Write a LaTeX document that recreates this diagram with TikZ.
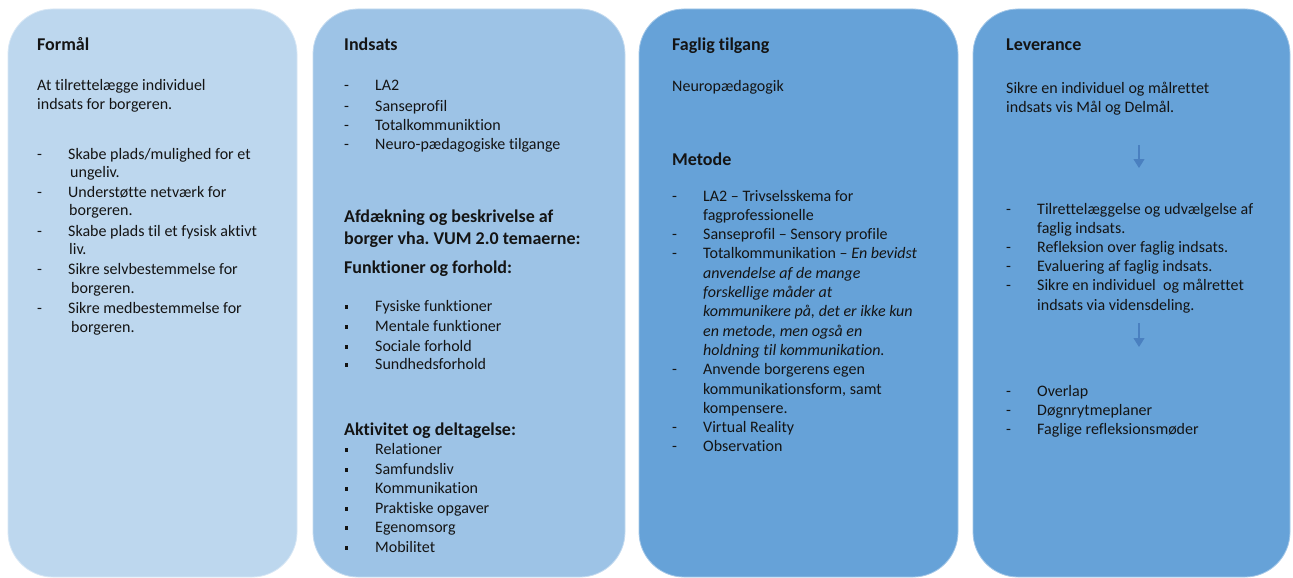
\documentclass[tikz,border=0pt]{standalone}
\usepackage{fontspec}
\setmainfont[Ligatures={NoCommon,NoContextual},Contextuals=NoAlternate]{Carlito}
\frenchspacing
\usetikzlibrary{arrows.meta}
\definecolor{boxA}{HTML}{BDD7EE}
\definecolor{boxB}{HTML}{9DC3E6}
\definecolor{boxC}{HTML}{66A2D8}
\definecolor{arrowc}{HTML}{4A80C0}
\definecolor{txtc}{HTML}{141414}
\begin{document}
\begin{tikzpicture}[x=1pt,y=-1pt,
  colbox/.style={rounded corners=45pt, line width=0.8pt},
  body/.style={anchor=base west, inner sep=0pt, text=txtc, font=\fontsize{16}{19}\selectfont},
  ital/.style={body, font=\fontsize{16}{19}\selectfont\itshape},
  head/.style={anchor=base west, inner sep=0pt, text=txtc, font=\fontsize{18}{22}\selectfont\bfseries},
  sq/.style={anchor=base west, inner sep=0pt, text=txtc},
  flow/.style={draw=arrowc, line width=1.1pt, -{Triangle[width=11pt,length=9pt]}}
]
\useasboundingbox (0,0) rectangle (1293,578);
\fill[white] (0,0) rectangle (1293,578);

% boxes
\draw[colbox, fill=boxA, draw=boxA!60!white] (8,9) rectangle (297,577);
\draw[colbox, fill=boxB, draw=boxB!60!white] (313,9) rectangle (625,577);
\draw[colbox, fill=boxC, draw=boxC!60!white] (639,9) rectangle (958,577);
\draw[colbox, fill=boxC, draw=boxC!60!white] (973,9) rectangle (1290,577);

% ---------- Column 1 ----------
\node[head] (h1) at (37,51) {Formål};
\node[body] (t1a) at (37,91) {At tilret\kern0pt telægge individuel};
\node[body] (t1b) at (37,110) {indsats for borgeren.};
\node[body] (d1a) at (37,159) {-};
\node[body] (i1a) at (68,159) {Skabe plads/mulighed for et};
\node[body] (i1a2) at (70,177) {ungeliv.};
\node[body] (d1b) at (37,197) {-};
\node[body] (i1b) at (68,197) {Understøt\kern0pt te netværk for};
\node[body] (i1b2) at (69,215) {borgeren.};
\node[body] (d1c) at (37,236) {-};
\node[body] (i1c) at (68,236) {Skabe plads til et fysisk aktivt};
\node[body] (i1c2) at (69,254) {liv.};
\node[body] (d1d) at (37,274) {-};
\node[body] (i1d) at (68,274) {Sikre selvbestemmelse for};
\node[body] (i1d2) at (71,293) {borgeren.};
\node[body] (d1e) at (37,313) {-};
\node[body] (i1e) at (68,313) {Sikre medbestemmelse for};
\node[body] (i1e2) at (71,332) {borgeren.};

% ---------- Column 2 ----------
\node[head] (h2) at (344,51) {Indsats};
\node[body] (d2a) at (344,91) {-};
\node[body] (i2a) at (375,91) {LA2};
\node[body] (d2b) at (344,111) {-};
\node[body] (i2b) at (375,111) {Sanseprofil};
\node[body] (d2c) at (344,130) {-};
\node[body] (i2c) at (375,130) {Totalkommuniktion};
\node[body] (d2d) at (344,149) {-};
\node[body] (i2d) at (375,149) {Neuro-pædagogiske tilgange};
\node[head] (s2a) at (344,222) {Afdækning og beskrivelse af};
\node[head] (s2b) at (344,244) {borger vha. VUM 2.0 temaerne:};
\node[head] (s2c) at (344,273) {Funktioner og forhold:};
\node[sq] (b2a) at (345,311) {\rule[2.5pt]{3.2pt}{3.2pt}};
\node[body] (f2a) at (375,311) {Fysiske funktioner};
\node[sq] (b2b) at (345,331) {\rule[2.5pt]{3.2pt}{3.2pt}};
\node[body] (f2b) at (375,331) {Mentale funktioner};
\node[sq] (b2c) at (345,351) {\rule[2.5pt]{3.2pt}{3.2pt}};
\node[body] (f2c) at (375,351) {Sociale forhold};
\node[sq] (b2d) at (345,369) {\rule[2.5pt]{3.2pt}{3.2pt}};
\node[body] (f2d) at (375,369) {Sundhedsforhold};
\node[head] (s2d) at (344,435) {Aktivitet og deltagelse:};
\node[sq] (b2e) at (345,454) {\rule[2.5pt]{3.2pt}{3.2pt}};
\node[body] (a2a) at (375,454) {Relationer};
\node[sq] (b2f) at (345,474) {\rule[2.5pt]{3.2pt}{3.2pt}};
\node[body] (a2b) at (375,474) {Samfundsliv};
\node[sq] (b2g) at (345,493) {\rule[2.5pt]{3.2pt}{3.2pt}};
\node[body] (a2c) at (375,493) {Kommunikation};
\node[sq] (b2h) at (345,513) {\rule[2.5pt]{3.2pt}{3.2pt}};
\node[body] (a2d) at (375,513) {Praktiske opgaver};
\node[sq] (b2i) at (345,532) {\rule[2.5pt]{3.2pt}{3.2pt}};
\node[body] (a2e) at (375,532) {Egenomsorg};
\node[sq] (b2j) at (345,552) {\rule[2.5pt]{3.2pt}{3.2pt}};
\node[body] (a2f) at (375,552) {Mobilitet};

% ---------- Column 3 ----------
\node[head] (h3) at (672,51) {Faglig tilgang};
\node[body] (t3a) at (672,92) {Neuropædagogik};
\node[head] (s3a) at (672,165) {Metode};
\node[body] (d3a) at (672,201) {-};
\node[body] (m3a) at (703,201) {LA2 – Trivselsskema for};
\node[body] (m3a2) at (703,220.3) {fagprofessionelle};
\node[body] (d3b) at (672,239.6) {-};
\node[body] (m3b) at (703,239.6) {Sanseprofil – Sensory profile};
\node[body] (d3c) at (672,258.9) {-};
\node[body] (m3c) at (703,258.9) {Totalkommunikation – \textit{En bevidst}};
\node[ital] (m3c2) at (703,278.2) {anvendelse af de mange};
\node[ital] (m3c3) at (703,297.5) {forskellige måder at};
\node[ital] (m3c4) at (703,316.8) {kommunikere på, det er ikke kun};
\node[ital] (m3c5) at (703,336.1) {en metode, men også en};
\node[ital] (m3c6) at (703,355.4) {holdning til kommunikation.};
\node[body] (d3d) at (672,374.7) {-};
\node[body] (m3d) at (703,374.7) {Anvende borgerens egen};
\node[body] (m3d2) at (703,394) {kommunikationsform, samt};
\node[body] (m3d3) at (703,413.3) {kompensere.};
\node[body] (d3e) at (672,432.6) {-};
\node[body] (m3e) at (703,432.6) {Virtual Reality};
\node[body] (d3f) at (672,451.9) {-};
\node[body] (m3f) at (703,451.9) {Observation};

% ---------- Column 4 ----------
\node[head] (h4) at (1006,51) {Leverance};
\node[body] (t4a) at (1006,93) {Sikre en individuel og målret\kern0pt tet};
\node[body] (t4b) at (1006,112) {indsats vis Mål og Delmål.};
\coordinate (a1s) at (1139,145);
\coordinate (a1e) at (1139,168);
\draw[flow] (a1s) -- (a1e);
\node[body] (d4a) at (1006,214) {-};
\node[body] (l4a) at (1037,214) {Tilrettelæggelse og udvælgelse af};
\node[body] (l4a2) at (1037,233) {faglig indsats.};
\node[body] (d4b) at (1006,252) {-};
\node[body] (l4b) at (1037,252) {Refleksion over faglig indsats.};
\node[body] (d4c) at (1006,271) {-};
\node[body] (l4c) at (1037,271) {Evaluering af faglig indsats.};
\node[body] (d4d) at (1006,290) {-};
\node[body] (l4d) at (1037,290) {Sikre en individuel\ \ og målret\kern0pt tet};
\node[body] (l4d2) at (1037,310) {indsats via vidensdeling.};
\coordinate (a2s) at (1139,323);
\coordinate (a2e) at (1139,347);
\draw[flow] (a2s) -- (a2e);
\node[body] (d4e) at (1006,396) {-};
\node[body] (l4e) at (1037,396) {Overlap};
\node[body] (d4f) at (1006,415) {-};
\node[body] (l4f) at (1037,415) {Døgnrytmeplaner};
\node[body] (d4g) at (1006,434) {-};
\node[body] (l4g) at (1037,434) {Faglige refleksionsmøder};
\end{tikzpicture}
\end{document}
